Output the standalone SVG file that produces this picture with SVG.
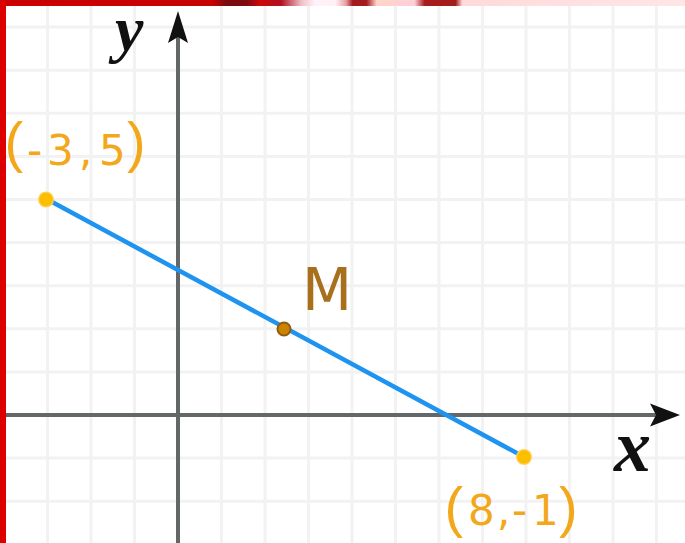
<svg xmlns="http://www.w3.org/2000/svg" width="685" height="543" viewBox="0 0 685 543">
<defs>
<linearGradient id="topband" gradientUnits="userSpaceOnUse" x1="0" y1="0" x2="685" y2="0">
<stop offset="0" stop-color="#cc0000"/>
<stop offset="0.31" stop-color="#c80204"/>
<stop offset="0.33" stop-color="#7a0a10"/>
<stop offset="0.36" stop-color="#7e0a10"/>
<stop offset="0.38" stop-color="#cc0808"/>
<stop offset="0.41" stop-color="#b01020"/>
<stop offset="0.44" stop-color="#f0c0c8"/>
<stop offset="0.46" stop-color="#fff2f8"/>
<stop offset="0.49" stop-color="#fff0f6"/>
<stop offset="0.505" stop-color="#e8a0a0"/>
<stop offset="0.515" stop-color="#a01a20"/>
<stop offset="0.535" stop-color="#a41c20"/>
<stop offset="0.55" stop-color="#ffd5c8"/>
<stop offset="0.605" stop-color="#ffd0d8"/>
<stop offset="0.62" stop-color="#a51c1c"/>
<stop offset="0.665" stop-color="#a51c1c"/>
<stop offset="0.675" stop-color="#ffdada"/>
<stop offset="1" stop-color="#ffe6e6"/>
</linearGradient>
<radialGradient id="endDot">
<stop offset="0" stop-color="#ffc400"/>
<stop offset="0.7" stop-color="#fbbb00"/>
<stop offset="1" stop-color="#ffd968"/>
</radialGradient>
</defs>
<style>
.grid line { stroke:#f2f2f2; stroke-width:3; }
.axis { stroke:#636767; stroke-width:4; fill:none; }
.arrow { fill:#111111; }
.var { font-family:"Liberation Serif", serif; font-style:italic; font-weight:bold; fill:#111111; }
.coord { font-family:"DejaVu Sans", sans-serif; fill:#f3a71a; font-size:42px; }
.paren { font-family:"Liberation Sans", sans-serif; fill:#f3a71a; font-size:56px; }
.mlabel { font-family:"DejaVu Sans", sans-serif; fill:#a8701c; font-size:58px; }
</style>
<rect width="685" height="543" fill="#ffffff"/>
<g class="grid">
<line x1="47.5" y1="0" x2="47.5" y2="543"/>
<line x1="91" y1="0" x2="91" y2="543"/>
<line x1="134.5" y1="0" x2="134.5" y2="543"/>
<line x1="221.5" y1="0" x2="221.5" y2="543"/>
<line x1="265" y1="0" x2="265" y2="543"/>
<line x1="308.5" y1="0" x2="308.5" y2="543"/>
<line x1="352" y1="0" x2="352" y2="543"/>
<line x1="395.5" y1="0" x2="395.5" y2="543"/>
<line x1="439" y1="0" x2="439" y2="543"/>
<line x1="482.5" y1="0" x2="482.5" y2="543"/>
<line x1="526" y1="0" x2="526" y2="543"/>
<line x1="569.5" y1="0" x2="569.5" y2="543"/>
<line x1="613" y1="0" x2="613" y2="543"/>
<line x1="656.5" y1="0" x2="656.5" y2="543"/>
<line x1="0" y1="27.1" x2="685" y2="27.1"/>
<line x1="0" y1="70.2" x2="685" y2="70.2"/>
<line x1="0" y1="113.3" x2="685" y2="113.3"/>
<line x1="0" y1="156.4" x2="685" y2="156.4"/>
<line x1="0" y1="199.5" x2="685" y2="199.5"/>
<line x1="0" y1="242.6" x2="685" y2="242.6"/>
<line x1="0" y1="285.7" x2="685" y2="285.7"/>
<line x1="0" y1="328.8" x2="685" y2="328.8"/>
<line x1="0" y1="371.9" x2="685" y2="371.9"/>
<line x1="0" y1="458.1" x2="685" y2="458.1"/>
<line x1="0" y1="501.2" x2="685" y2="501.2"/>
</g>
<g id="axes">
<line class="axis" x1="6" y1="415" x2="658" y2="415"/>
<line class="axis" x1="178" y1="543" x2="178" y2="35"/>
<path class="arrow" d="M680,415 L650,403.5 L656,415 L650,426.5 Z"/>
<path class="arrow" d="M178,11 L188,43 L178,37 L168,43 Z"/>
<text class="var" x="115" y="50" font-size="64">y</text>
<text class="var" x="614" y="471" font-size="74">x</text>
</g>
<g id="segment">
<line x1="47.5" y1="199.5" x2="526" y2="458" stroke="#1e94f0" stroke-width="4.5" stroke-linecap="round"/>
</g>
<g id="pointA">
<circle cx="46" cy="199.5" r="8" fill="url(#endDot)"/>
<text class="paren" x="4.5" y="161">(</text>
<text class="coord"><tspan x="27" y="165">-</tspan><tspan x="47" y="165">3</tspan><tspan x="79" y="165">,</tspan><tspan x="99" y="165">5</tspan></text>
<text class="paren" x="127" y="161">)</text>
</g>
<g id="pointB">
<circle cx="524" cy="457" r="8" fill="url(#endDot)"/>
<text class="paren" x="444.5" y="526">(</text>
<text class="coord"><tspan x="468" y="525">8</tspan><tspan x="497" y="525">,</tspan><tspan x="512" y="525">-</tspan><tspan x="532" y="525">1</tspan></text>
<text class="paren" x="559" y="526">)</text>
</g>
<g id="pointM">
<circle cx="284" cy="329" r="6.5" fill="#cc8400" stroke="#8e5c12" stroke-width="2"/>
<text class="mlabel" x="302" y="310">M</text>
</g>
<rect x="0" y="0" width="685" height="6" fill="url(#topband)"/>
<rect x="0" y="0" width="6" height="543" fill="#dd0000"/>
</svg>
